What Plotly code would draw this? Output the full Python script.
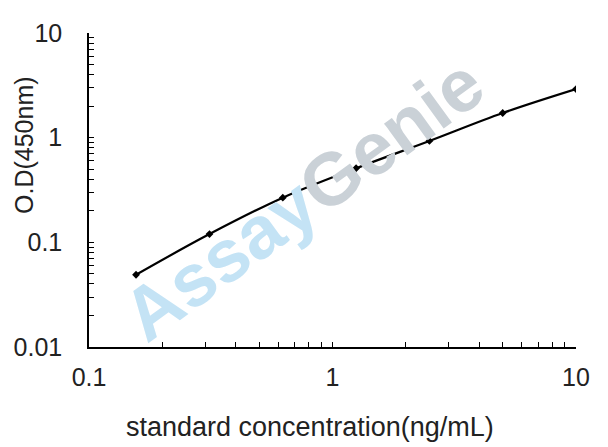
import plotly.graph_objects as go

concentration = [0.156, 0.3125, 0.625, 1.25, 2.5, 5, 10]
od450 = [0.049, 0.12, 0.267, 0.51, 0.93, 1.72, 2.91]

x_decades = [0.1, 1, 10]
y_decades = [0.01, 0.1, 1, 10]


def log_ticks(decades):
    vals, text = [], []
    for d in decades:
        vals.append(d)
        text.append(str(d) if d < 1 else str(int(d)))
        if d != decades[-1]:
            for k in range(2, 10):
                vals.append(round(d * k, 6))
                text.append("")
    return vals, text


xvals, xtext = log_ticks(x_decades)
yvals, ytext = log_ticks(y_decades)

W, H = 608, 447
L, R, T, B = 81, 40, 25, 108
pw, ph = W - L - R, H - T - B

fig = go.Figure()
fig.add_trace(go.Scatter(
    x=concentration, y=od450, mode="lines+markers",
    line=dict(color="black", width=2.2, shape="spline"),
    marker=dict(symbol="diamond", size=6, color="black"),
    showlegend=False,
))

# watermark
fig.add_annotation(
    x=0.5, y=0.5, xref="paper", yref="paper",
    xshift=-30, yshift=-9,
    text="<b><span style='color:#c4e3f5'>Assay</span><span style='color:#cad1d7'>Genie</span></b>",
    textangle=-36, showarrow=False,
    font=dict(family="Liberation Sans, Arial", size=74),
)

# axis titles, placed as in the original (not centred on the plot area)
title_font = dict(family="Liberation Sans, Arial", size=27, color="#222")
fig.add_annotation(
    x=(302 - L) / pw, y=(H - 419 - B) / ph, xref="paper", yref="paper",
    xanchor="center", yanchor="middle", showarrow=False,
    text="standard concentration(ng/mL)", font=title_font,
)
fig.add_annotation(
    x=(16 - L) / pw, y=(H - 137 - B) / ph, xref="paper", yref="paper",
    xanchor="center", yanchor="middle", showarrow=False, borderpad=0,
    text="O.D(450nm)", textangle=-90, font=dict(title_font, size=25),
)

axis_font = dict(family="Liberation Sans, Arial", size=25, color="#222")
fig.update_xaxes(
    type="log", range=[-1, 1], tickvals=xvals, ticktext=xtext,
    ticks="inside", ticklen=5, tickcolor="black", tickwidth=1,
    showline=True, linecolor="black", linewidth=1.5, showgrid=False, zeroline=False,
    tickfont=axis_font, ticklabelstandoff=7,
)
fig.update_yaxes(
    type="log", range=[-2, 1], tickvals=yvals, ticktext=ytext,
    ticks="inside", ticklen=5, tickcolor="black", tickwidth=1,
    showline=True, linecolor="black", linewidth=1.5, showgrid=False, zeroline=False,
    tickfont=axis_font, ticklabelstandoff=20,
)
fig.update_layout(
    width=W, height=H,
    margin=dict(l=L, r=R, t=T, b=B, autoexpand=False),
    plot_bgcolor="white", paper_bgcolor="white",
)
fig.write_html("out.html")
